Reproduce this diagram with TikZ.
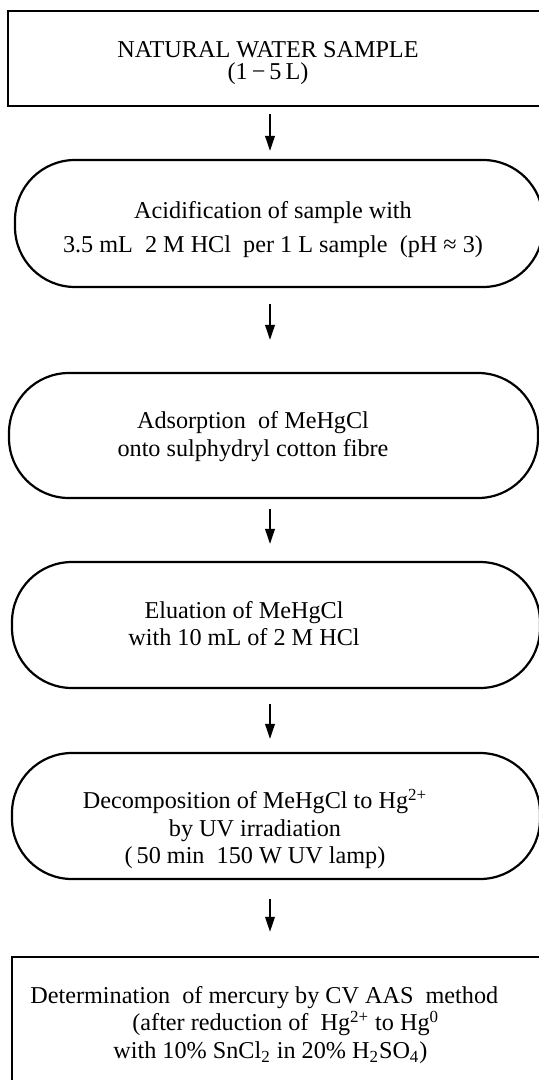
\documentclass[tikz,border=0pt]{standalone}
\usepackage{fontspec}
\setmainfont{Liberation Serif}
\usetikzlibrary{arrows.meta}
\begin{document}
\begin{tikzpicture}[x=0.5pt,y=-0.5pt,
  sqbox/.style={draw,line width=1.2pt,rectangle,inner sep=0pt},
  rbox/.style={draw,line width=1.1pt,rectangle,rounded corners=30pt,inner sep=0pt},
  lbl/.style={align=center,inner sep=0pt},
  arr/.style={line width=0.9pt,-{Triangle[width=4.8pt,length=7.5pt]}}]
\clip (0,0) rectangle (539,1080);
\fill[white] (0,0) rectangle (539,1080);
% boxes
\node[sqbox,minimum width=270pt,minimum height=47.5pt] (top) at (278,58.5) {};
\node[rbox,minimum width=264pt,minimum height=63.5pt] (b1) at (279,223.5) {};
\node[rbox,minimum width=264.5pt,minimum height=62.5pt] (b2) at (273.5,435.5) {};
\node[rbox,minimum width=264pt,minimum height=63pt] (b3) at (276,625) {};
\node[rbox,minimum width=264pt,minimum height=63pt] (b4) at (276,816) {};
\node[sqbox,minimum width=268pt,minimum height=71.5pt] (b5) at (280,1028.5) {};
% labels
\node[lbl,font={\fontsize{12.1}{11}\selectfont}] (t0) at (268,63) {NATURAL WATER SAMPLE\\(1\,−\,5\,L)};
\node[lbl,font={\fontsize{12.1}{17}\selectfont}] (t1) at (273,230) {Acidification of sample with\\3.5 mL\ \ 2 M HCl\ \ per 1 L sample\ \ (pH ≈ 3)};
\node[lbl,font={\fontsize{12.1}{14}\selectfont}] (t2) at (253,437) {Adsorption\ \ of MeHgCl\\onto sulphydryl cotton fibre};
\node[lbl,font={\fontsize{12.1}{13.5}\selectfont}] (t3) at (244,624) {Eluation of MeHgCl\\with 10 mL of 2 M HCl};
\node[lbl,font={\fontsize{12.1}{13.75}\selectfont}] (t4) at (255,829) {Decomposition of MeHgCl to Hg\textsuperscript{2+}\\by UV irradiation\\(\,50 min\ \ 150 W UV lamp)};
\node[lbl,align=left,anchor=west,font={\fontsize{12.1}{13.75}\selectfont}] (t5) at (30,1025) {Determination\ \ of mercury by CV AAS\ \ method\\\hspace*{51pt}(after reduction of\ \ Hg\textsuperscript{2+} to Hg\textsuperscript{0}\\\hspace*{41.5pt}with 10\% SnCl\textsubscript{2} in 20\% H\textsubscript{2}SO\textsubscript{4})};
% arrows
\coordinate (ax) at (270,0);
\draw[arr,shorten <=3.5pt,shorten >=4pt] (top.south -| ax) -- (b1.north -| ax);
\draw[arr,shorten <=8pt,shorten >=16pt] (b1.south -| ax) -- (b2.north -| ax);
\draw[arr,shorten <=5pt,shorten >=8.5pt] (b2.south -| ax) -- (b3.north -| ax);
\draw[arr,shorten <=7.5pt,shorten >=6.5pt] (b3.south -| ax) -- (b4.north -| ax);
\draw[arr,shorten <=9.5pt,shorten >=12pt] (b4.south -| ax) -- (b5.north -| ax);
\end{tikzpicture}
\end{document}
